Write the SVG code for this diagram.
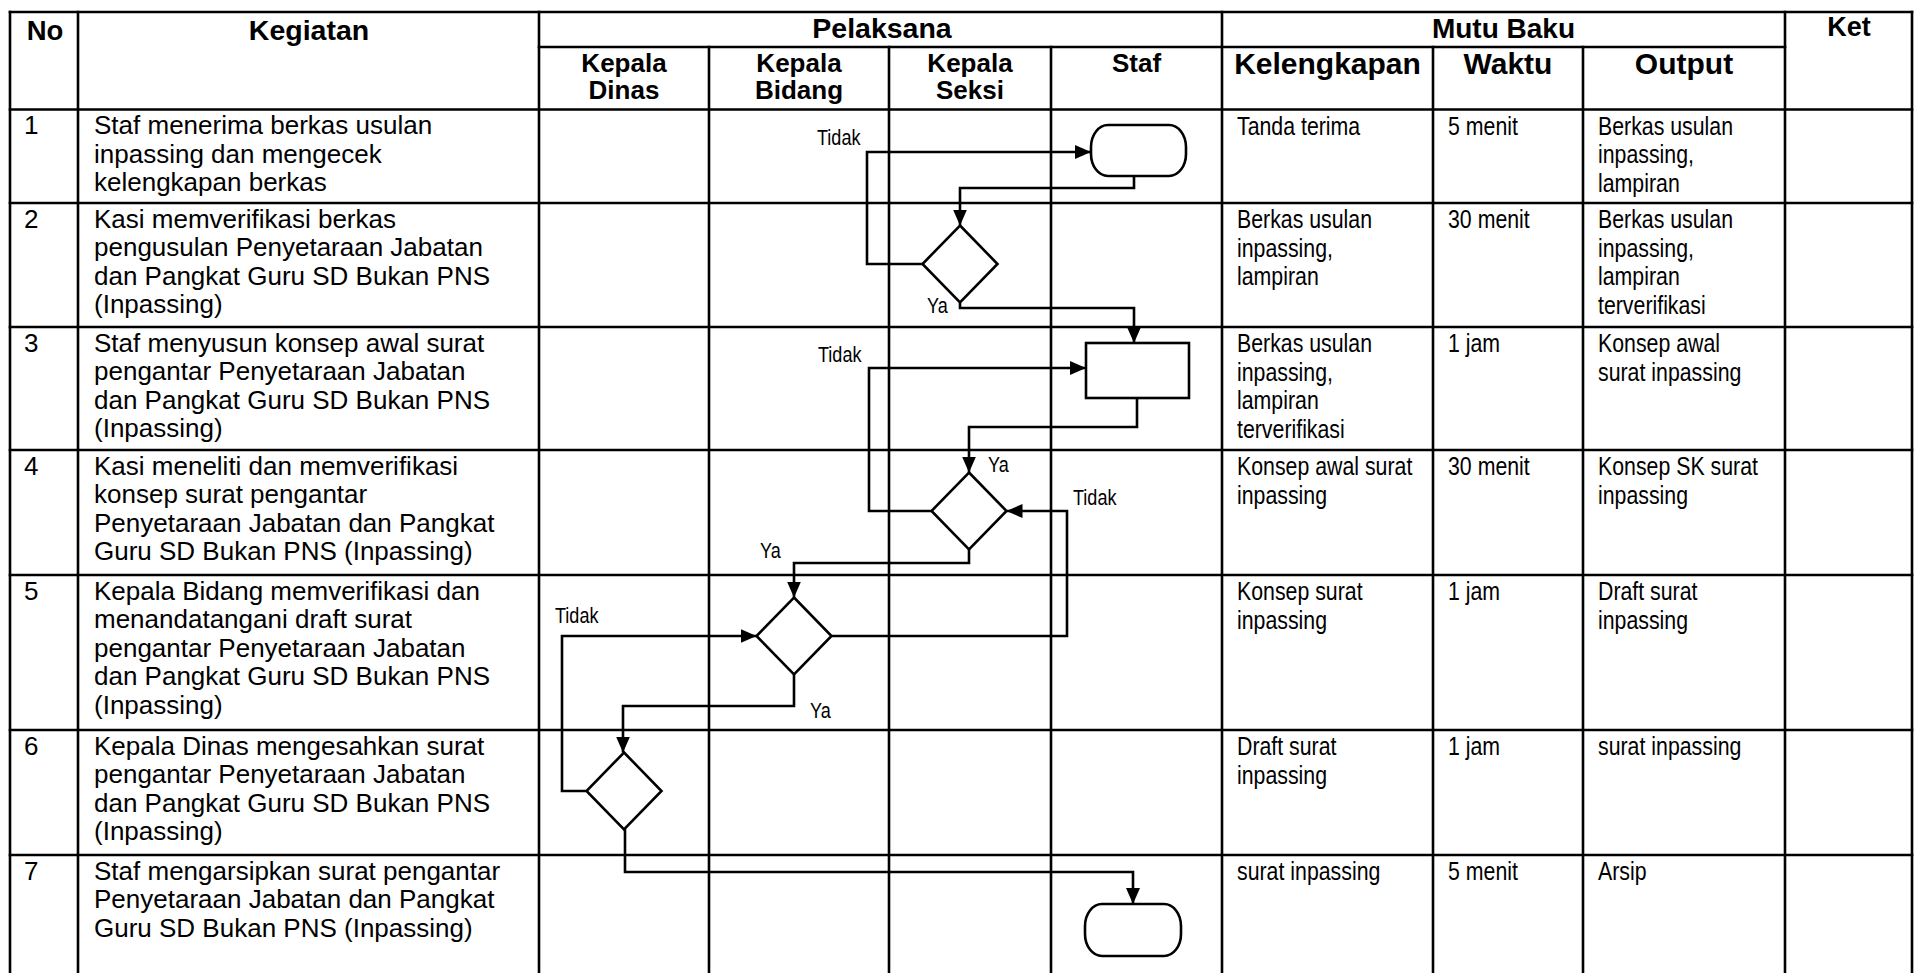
<svg xmlns="http://www.w3.org/2000/svg" width="1915" height="973" viewBox="0 0 1915 973">
<style>
.grid line{stroke:#000;stroke-width:2.6;stroke-linecap:square}
.hd{font-family:"Liberation Sans",Arial,sans-serif;font-weight:bold;fill:#000;text-anchor:middle}
.tx{font-family:"Liberation Sans",Arial,sans-serif;font-size:26px;fill:#000}
.nr{font-family:"Liberation Sans",Arial,sans-serif;font-size:26px;fill:#000}
.lb{font-family:"Liberation Sans",Arial,sans-serif;font-size:22px;fill:#000}
.shape{fill:#fff;stroke:#000;stroke-width:2.6}
.conn path{fill:none;stroke:#000;stroke-width:2.6;marker-end:url(#arr)}
</style>
<defs>
<marker id="arr" markerUnits="userSpaceOnUse" markerWidth="16" markerHeight="14" refX="16" refY="7" orient="auto">
<path d="M0,0 L16,7 L0,14 z" fill="#000"/>
</marker>
</defs>
<rect x="0" y="0" width="1915" height="973" fill="#fff"/>

<g id="table" class="grid">
<line x1="10" y1="12" x2="1912" y2="12"/>
<line x1="539" y1="47" x2="1785" y2="47"/>
<line x1="10" y1="109.5" x2="1912" y2="109.5"/>
<line x1="10" y1="203" x2="1912" y2="203"/>
<line x1="10" y1="327" x2="1912" y2="327"/>
<line x1="10" y1="450" x2="1912" y2="450"/>
<line x1="10" y1="575" x2="1912" y2="575"/>
<line x1="10" y1="730" x2="1912" y2="730"/>
<line x1="10" y1="855" x2="1912" y2="855"/>
<line x1="10" y1="12" x2="10" y2="975"/>
<line x1="78" y1="12" x2="78" y2="975"/>
<line x1="539" y1="12" x2="539" y2="975"/>
<line x1="709" y1="47" x2="709" y2="975"/>
<line x1="889" y1="47" x2="889" y2="975"/>
<line x1="1051" y1="47" x2="1051" y2="975"/>
<line x1="1222" y1="12" x2="1222" y2="975"/>
<line x1="1433" y1="47" x2="1433" y2="975"/>
<line x1="1583" y1="47" x2="1583" y2="975"/>
<line x1="1785" y1="12" x2="1785" y2="975"/>
<line x1="1912" y1="12" x2="1912" y2="975"/>
</g>

<g id="header">
<text class="hd" x="45" y="40" font-size="27.5">No</text>
<text class="hd" x="309" y="40" font-size="28.5">Kegiatan</text>
<text class="hd" x="882" y="38" font-size="28.5">Pelaksana</text>
<text class="hd" x="1503.5" y="38" font-size="28">Mutu Baku</text>
<text class="hd" x="1849" y="36" font-size="27">Ket</text>
<text class="hd" x="624" y="72" font-size="26">Kepala<tspan x="624" dy="27">Dinas</tspan></text>
<text class="hd" x="799" y="72" font-size="26">Kepala<tspan x="799" dy="27">Bidang</tspan></text>
<text class="hd" x="970" y="72" font-size="26">Kepala<tspan x="970" dy="27">Seksi</tspan></text>
<text class="hd" x="1136.5" y="72" font-size="26">Staf</text>
<text class="hd" x="1327.5" y="74" font-size="30">Kelengkapan</text>
<text class="hd" x="1508" y="74" font-size="30">Waktu</text>
<text class="hd" x="1684" y="74" font-size="30">Output</text>
</g>

<g id="numbers" class="tx">
<text x="24" y="134">1</text>
<text x="24" y="227.5">2</text>
<text x="24" y="351.5">3</text>
<text x="24" y="474.5">4</text>
<text x="24" y="599.5">5</text>
<text x="24" y="754.5">6</text>
<text x="24" y="879.5">7</text>
</g>

<g id="kegiatan" class="tx">
<text x="94" y="134">Staf menerima berkas usulan<tspan x="94" dy="28.5">inpassing dan mengecek</tspan><tspan x="94" dy="28.5">kelengkapan berkas</tspan></text>
<text x="94" y="227.5">Kasi memverifikasi berkas<tspan x="94" dy="28.5">pengusulan Penyetaraan Jabatan</tspan><tspan x="94" dy="28.5">dan Pangkat Guru SD Bukan PNS</tspan><tspan x="94" dy="28.5">(Inpassing)</tspan></text>
<text x="94" y="351.5">Staf menyusun konsep awal surat<tspan x="94" dy="28.5">pengantar Penyetaraan Jabatan</tspan><tspan x="94" dy="28.5">dan Pangkat Guru SD Bukan PNS</tspan><tspan x="94" dy="28.5">(Inpassing)</tspan></text>
<text x="94" y="474.5">Kasi meneliti dan memverifikasi<tspan x="94" dy="28.5">konsep surat pengantar</tspan><tspan x="94" dy="28.5">Penyetaraan Jabatan dan Pangkat</tspan><tspan x="94" dy="28.5">Guru SD Bukan PNS (Inpassing)</tspan></text>
<text x="94" y="599.5">Kepala Bidang memverifikasi dan<tspan x="94" dy="28.5">menandatangani draft surat</tspan><tspan x="94" dy="28.5">pengantar Penyetaraan Jabatan</tspan><tspan x="94" dy="28.5">dan Pangkat Guru SD Bukan PNS</tspan><tspan x="94" dy="28.5">(Inpassing)</tspan></text>
<text x="94" y="754.5">Kepala Dinas mengesahkan surat<tspan x="94" dy="28.5">pengantar Penyetaraan Jabatan</tspan><tspan x="94" dy="28.5">dan Pangkat Guru SD Bukan PNS</tspan><tspan x="94" dy="28.5">(Inpassing)</tspan></text>
<text x="94" y="879.5">Staf mengarsipkan surat pengantar<tspan x="94" dy="28.5">Penyetaraan Jabatan dan Pangkat</tspan><tspan x="94" dy="28.5">Guru SD Bukan PNS (Inpassing)</tspan></text>
</g>

<g id="kelengkapan" class="nr" transform="translate(1237,0) scale(0.82,1)">
<text x="0" y="135">Tanda terima</text>
<text x="0" y="228.5">Berkas usulan<tspan x="0" dy="28.5">inpassing,</tspan><tspan x="0" dy="28.5">lampiran</tspan></text>
<text x="0" y="352.5">Berkas usulan<tspan x="0" dy="28.5">inpassing,</tspan><tspan x="0" dy="28.5">lampiran</tspan><tspan x="0" dy="28.5">terverifikasi</tspan></text>
<text x="0" y="475.5">Konsep awal surat<tspan x="0" dy="28.5">inpassing</tspan></text>
<text x="0" y="600.5">Konsep surat<tspan x="0" dy="28.5">inpassing</tspan></text>
<text x="0" y="755.5">Draft surat<tspan x="0" dy="28.5">inpassing</tspan></text>
<text x="0" y="880.5">surat inpassing</text>
</g>

<g id="waktu" class="nr" transform="translate(1448,0) scale(0.82,1)">
<text x="0" y="135">5 menit</text>
<text x="0" y="228.5">30 menit</text>
<text x="0" y="352.5">1 jam</text>
<text x="0" y="475.5">30 menit</text>
<text x="0" y="600.5">1 jam</text>
<text x="0" y="755.5">1 jam</text>
<text x="0" y="880.5">5 menit</text>
</g>

<g id="output" class="nr" transform="translate(1598,0) scale(0.82,1)">
<text x="0" y="135">Berkas usulan<tspan x="0" dy="28.5">inpassing,</tspan><tspan x="0" dy="28.5">lampiran</tspan></text>
<text x="0" y="228.5">Berkas usulan<tspan x="0" dy="28.5">inpassing,</tspan><tspan x="0" dy="28.5">lampiran</tspan><tspan x="0" dy="28.5">terverifikasi</tspan></text>
<text x="0" y="352.5">Konsep awal<tspan x="0" dy="28.5">surat inpassing</tspan></text>
<text x="0" y="475.5">Konsep SK surat<tspan x="0" dy="28.5">inpassing</tspan></text>
<text x="0" y="600.5">Draft surat<tspan x="0" dy="28.5">inpassing</tspan></text>
<text x="0" y="755.5">surat inpassing</text>
<text x="0" y="880.5">Arsip</text>
</g>

<g id="connectors" class="conn">
<path d="M922.5,264 H867 V152 H1091"/>
<path d="M1134,176 V188 H960 V225.5"/>
<path d="M960,302.5 V308 H1134 V343"/>
<path d="M931.5,511 H869 V368 H1086"/>
<path d="M1137,398 V427 H969 V472.5"/>
<path d="M969,549.5 V563 H794 V597.5"/>
<path d="M831.5,636 H1067 V511 H1006.5"/>
<path d="M794,674.5 V706 H623 V752.5"/>
<path d="M586,791 H562 V636 H756.5"/>
<path d="M625,828.5 V872 H1133 V904"/>
</g>

<g id="t-start"><rect class="shape" x="1091" y="125" width="95" height="51" rx="17" ry="22"/></g>
<g id="d-verif-berkas"><path class="shape" d="M960,225.5 L997.5,264 L960,302.5 L922.5,264 Z"/></g>
<g id="p-konsep"><rect class="shape" x="1086" y="343" width="103" height="55"/></g>
<g id="d-verif-konsep"><path class="shape" d="M969,472.5 L1006.5,511 L969,549.5 L931.5,511 Z"/></g>
<g id="d-kabid"><path class="shape" d="M794,597.5 L831.5,636 L794,674.5 L756.5,636 Z"/></g>
<g id="d-kadis"><path class="shape" d="M624,752.5 L661.5,791 L624,829.5 L586.5,791 Z"/></g>
<g id="t-end"><rect class="shape" x="1085" y="904" width="96" height="52" rx="17" ry="22"/></g>

<g id="labels" class="lb">
<text transform="translate(817,145) scale(0.82,1)">Tidak</text>
<text transform="translate(927,313) scale(0.82,1)">Ya</text>
<text transform="translate(818,362) scale(0.82,1)">Tidak</text>
<text transform="translate(988,472) scale(0.82,1)">Ya</text>
<text transform="translate(1073,505) scale(0.82,1)">Tidak</text>
<text transform="translate(760,558) scale(0.82,1)">Ya</text>
<text transform="translate(555,623) scale(0.82,1)">Tidak</text>
<text transform="translate(810,718) scale(0.82,1)">Ya</text>
</g>
</svg>
